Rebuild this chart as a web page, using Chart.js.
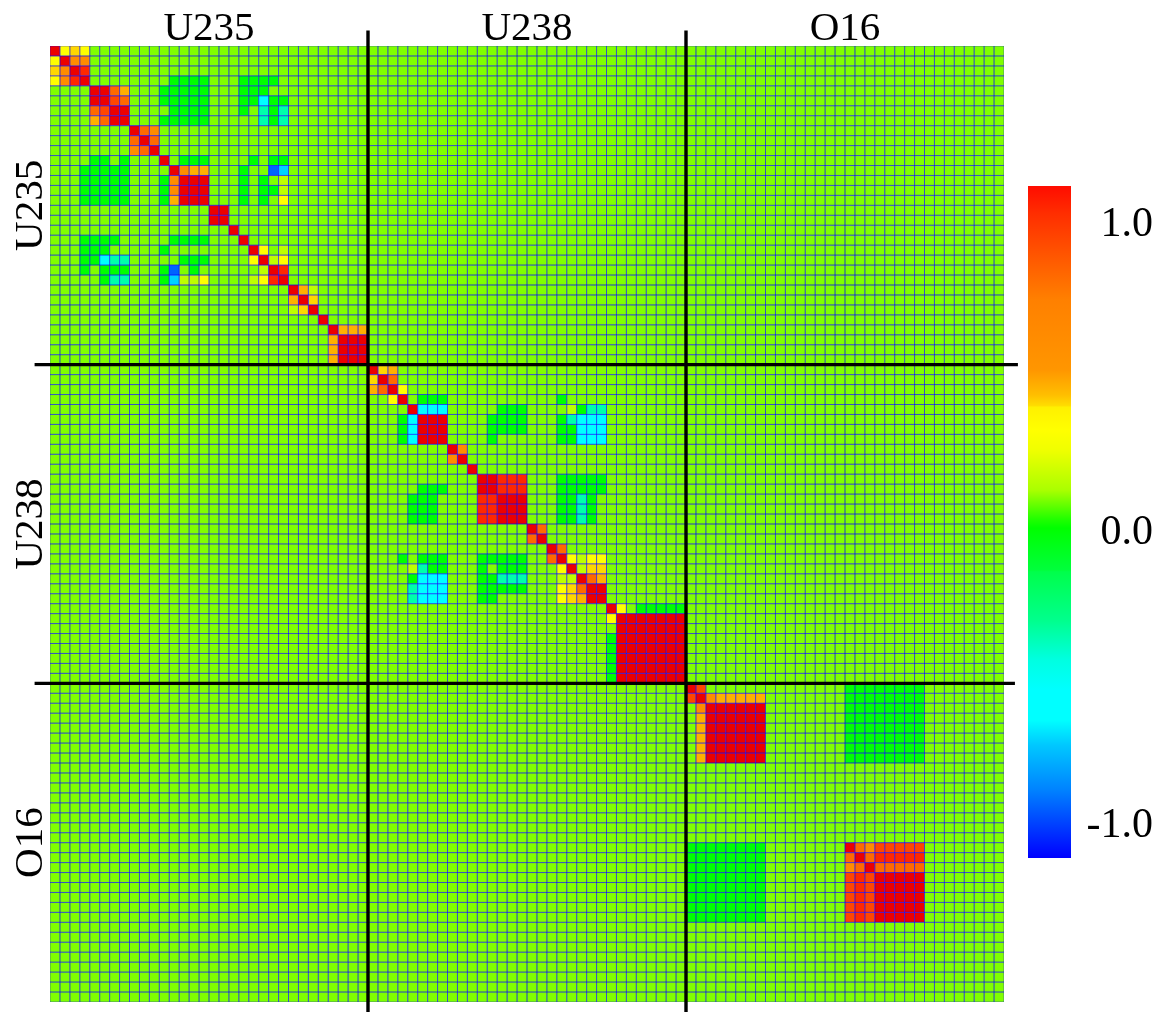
<!DOCTYPE html>
<html>
<head>
<meta charset="utf-8">
<style>
html,body{margin:0;padding:0;background:#fff;overflow:hidden}
#main{position:absolute;left:0;top:0}
#bar{position:absolute;left:1028px;top:186px}
</style>
<script src="https://cdn.jsdelivr.net/npm/chart.js@4"></script>
</head>
<body>
<canvas id="main" width="1163" height="1012"></canvas>
<canvas id="bar" width="125" height="672"></canvas>
<script>
const sectionNames = ["U235", "U238", "O16"];
const sectionSize = 32;
const sectionCentres = [16, 48, 80];
const sectionEdges = [32, 64];
const gridSize = 96;

// correlation read per cell; letters refer to levelValues
const levelValues = {
  b: -0.88, d: -0.72, c: -0.6, t: -0.39, g: 0, ".": 0.08, l: 0.145, y: 0.31,
  z: 0.39, a: 0.445, o: 0.6, n: 0.78, m: 0.9, q: 0.95, r: 1
};

// [row, first column, letters] relative to the section's own diagonal block
const u235Cells = [
  [0,0,"ryzy"],[1,0,"yroo"],[2,0,"zorq"],
  [3,0,"yoqr"],[3,12,"gggg"],[3,19,"gggg"],
  [4,4,"rrna"],[4,11,"ggggg"],[4,19,"ggg"],
  [5,4,"rrmn"],[5,11,"ggggg"],[5,19,"ggcgg"],
  [6,4,"nmrr"],[6,12,"gggg"],[6,19,"g.tgt"],
  [7,4,"anrr"],[7,11,"ggggg"],[7,21,"tgt"],
  [8,8,"rno"],[9,8,"nrn"],[10,8,"onr"],
  [11,4,"gg.g"],[11,11,"r"],[11,13,"ggg"],[11,20,"g.gg"],
  [12,3,"ggggg"],[12,12,"roaa"],[12,19,"g"],[12,22,"bd"],
  [13,3,"ggggg"],[13,11,"gorrr"],[13,19,"g.g.l"],
  [14,3,"ggggg"],[14,11,"gorrr"],[14,19,"g.ggl"],
  [15,3,"ggggg"],[15,11,"garrr"],[15,19,"g.g.y"],
  [16,16,"rr"],[17,16,"rr"],[18,18,"r"],
  [19,3,"gggg"],[19,12,"gggg"],[19,19,"r"],
  [20,3,"ggg"],[20,11,"g"],[20,20,"ry.l"],
  [21,3,"ggctt"],[21,13,"ggg"],[21,20,"yrly"],
  [22,3,"g.ggg"],[22,11,"gb.g"],[22,21,"lrq"],
  [23,5,"gtt"],[23,11,"gdlly"],[23,20,"lyqr"],
  [24,24,"ral"],[25,24,"arz"],[26,24,"lzr"],[27,27,"r"],
  [28,28,"raaa"],[29,28,"arrr"],[30,28,"arrr"],[31,28,"arrr"]
];
const u238Cells = [
  [0,0,"rza"],[1,0,"zrn"],[2,0,"anry"],
  [3,2,"yr"],[3,5,"ggg"],[3,19,"g"],
  [4,4,"rccc"],[4,13,"ggg"],[4,20,"lgtt"],
  [5,3,"gcrrr"],[5,12,"gggg"],[5,19,"gtccc"],
  [6,3,"gcrrr"],[6,12,"gggg"],[6,19,"ggccc"],
  [7,3,"gcrrr"],[7,12,"g"],[7,19,"ggccc"],
  [8,8,"ro"],[9,8,"or"],[10,10,"r"],
  [11,11,"rrqqq"],[11,19,"ggggg"],
  [12,5,"ggg"],[12,11,"rrqqq"],[12,19,"ggggg"],
  [13,4,"ggg"],[13,11,"qqrrr"],[13,19,"ggtg"],
  [14,4,"ggg"],[14,11,"qqrrr"],[14,19,"ggtg"],
  [15,4,"ggg"],[15,11,"qqrrr"],[15,19,"ggtg"],
  [16,16,"rn"],[17,16,"nr"],[18,18,"rn"],
  [19,3,"g.ggg"],[19,11,"ggggg"],[19,18,"nrylyy"],
  [20,4,"ltgg"],[20,11,"g.ggg"],[20,19,"yrlzz"],
  [21,4,"gccc"],[21,11,"ggttt"],[21,19,"llrna"],
  [22,4,"tccc"],[22,11,"ggggg"],[22,19,"yznrr"],
  [23,4,"tccc"],[23,11,"gg"],[23,19,"yzarr"],
  [24,24,"ry"],[24,27,"ggggg"],
  [25,24,"yrrrrrrr"],[26,25,"rrrrrrr"],
  [27,24,"grrrrrrr"],[28,24,"grrrrrrr"],[29,24,"grrrrrrr"],[30,24,"grrrrrrr"],[31,24,"grrrrrrr"]
];
const o16Cells = [
  [0,0,"rm"],[0,16,"gggggggg"],
  [1,0,"mroaaaaa"],[1,16,"gggggggg"],
  [2,1,"orrrrrr"],[2,16,"gggggggg"],
  [3,1,"arrrrrr"],[3,16,"gggggggg"],
  [4,1,"arrrrrr"],[4,16,"gggggggg"],
  [5,1,"arrrrrr"],[5,16,"gggggggg"],
  [6,1,"arrrrrr"],[6,16,"gggggggg"],
  [7,1,"arrrrrr"],[7,16,"gggggggg"],
  [16,0,"gggggggg"],[16,16,"rnommmmm"],
  [17,0,"gggggggg"],[17,16,"nrnqqqqq"],
  [18,0,"gggggggg"],[18,16,"onrnnnnn"],
  [19,0,"gggggggg"],[19,16,"mqmrrrrr"],
  [20,0,"gggggggg"],[20,16,"mqmrrrrr"],
  [21,0,"gggggggg"],[21,16,"mqmrrrrr"],
  [22,0,"gggggggg"],[22,16,"mqmrrrrr"],
  [23,0,"gggggggg"],[23,16,"mqmrrrrr"]
];

// value -> colour of the cells
const cellColourStops = [
  [-0.88,[0,100,255]],[-0.72,[0,210,255]],[-0.6,[0,255,255]],[-0.39,[0,255,170]],
  [0,[0,255,0]],[0.08,[128,255,0]],[0.145,[190,255,0]],[0.31,[255,255,0]],
  [0.39,[255,215,0]],[0.445,[255,176,0]],[0.6,[255,140,0]],[0.78,[255,105,0]],
  [0.9,[255,70,0]],[0.95,[255,40,0]],[1,[236,0,0]]
];

// colour bar
const colourbarMin = -1.113;
const colourbarMax = 1.123;
const colourbarStops = [
  [1.123,[255,12,0]],[1.033,[255,45,0]],[0.744,[255,128,0]],[0.511,[255,150,0]],
  [0.428,[255,190,0]],[0.391,[255,222,0]],[0.388,[255,240,0]],[0.311,[255,255,0]],
  [0.245,[240,255,0]],[0.111,[170,255,0]],[0.012,[30,255,0]],[-0.015,[0,255,0]],
  [-0.155,[0,255,60]],[-0.161,[0,255,75]],[-0.321,[0,255,140]],[-0.454,[0,255,225]],
  [-0.554,[0,255,255]],[-0.654,[0,255,255]],[-0.737,[0,200,255]],[-0.887,[0,130,255]],
  [-1.113,[0,0,255]]
];
const colourbarTickPositions = [0.993, -0.032, -1.007];
const colourbarTickLabels = ["1.0", "0.0", "-1.0"];

// separating lines, in cell units (they overrun the plot)
const lineOverrunStart = -1.55;
const lineOverrunEnd = [97.4, 97.1];
const lineOverrunBottom = 97.3;

const FONT = '"Liberation Serif", "Times New Roman", serif';

function buildCells() {
  const grid = [];
  for (let r = 0; r < gridSize; r++) grid.push(new Array(gridSize).fill(levelValues["."]));
  [u235Cells, u238Cells, o16Cells].forEach((list, s) => {
    const off = s * sectionSize;
    list.forEach(([r, c, letters]) => {
      [...letters].forEach((ch, i) => { grid[r + off][c + off + i] = levelValues[ch]; });
    });
  });
  const pts = [];
  grid.forEach((row, r) => row.forEach((v, c) => pts.push({x: c + 0.5, y: r + 0.5, v})));
  return pts;
}

function colourFor(v) {
  const s = cellColourStops;
  if (v <= s[0][0]) return `rgb(${s[0][1].join(",")})`;
  for (let i = 1; i < s.length; i++) {
    if (v <= s[i][0]) {
      const t = (v - s[i-1][0]) / (s[i][0] - s[i-1][0]);
      const c = s[i][1].map((b, k) => Math.round(s[i-1][1][k] + (b - s[i-1][1][k]) * t));
      return `rgb(${c.join(",")})`;
    }
  }
  return `rgb(${s[s.length-1][1].join(",")})`;
}

const labelFor = (value) => {
  const i = sectionCentres.indexOf(value);
  return i >= 0 ? sectionNames[i] : "";
};

const cellRadius = (ctx) => {
  const x = ctx.chart.scales.x;
  return (x.getPixelForValue(1) - x.getPixelForValue(0)) / Math.SQRT2;
};

const cellPoints = buildCells();

const lineDatasets = [];
sectionEdges.forEach((e, i) => {
  lineDatasets.push({
    type: "scatter", showLine: true, clip: false, pointRadius: 0, borderColor: "#000", borderWidth: 3.4,
    data: [{x: e, y: lineOverrunStart}, {x: e, y: lineOverrunBottom}], order: 0
  });
  lineDatasets.push({
    type: "scatter", showLine: true, clip: false, pointRadius: 0, borderColor: "#000", borderWidth: 3.4,
    data: [{x: lineOverrunStart, y: e}, {x: lineOverrunEnd[i], y: e}], order: 0
  });
});

new Chart(document.getElementById("main"), {
  type: "scatter",
  data: {
    datasets: [{
      data: cellPoints,
      order: 2,
      pointStyle: "rect",
      pointRadius: cellRadius,
      backgroundColor: (ctx) => colourFor(ctx.raw ? ctx.raw.v : 0),
      borderWidth: 0
    }, {
      data: cellPoints,
      order: 1,
      pointStyle: "rect",
      pointRadius: cellRadius,
      backgroundColor: "rgba(0,0,0,0)",
      borderColor: "rgba(0,0,255,0.42)",
      borderWidth: 1
    }, ...lineDatasets]
  },
  options: {
    responsive: false,
    animation: false,
    events: [],
    layout: {padding: {left: 0, top: 0, right: 159, bottom: 10}},
    plugins: {legend: {display: false}, tooltip: {enabled: false}, title: {display: false}},
    scales: {
      x: {
        type: "linear", position: "top", min: 0, max: gridSize,
        grid: {display: false, drawTicks: false}, border: {display: false},
        afterFit: (s) => { s.height = 46; },
        ticks: {
          stepSize: 1, autoSkip: false, maxRotation: 0, minRotation: 0, padding: -8,
          color: "#000", font: {family: FONT, size: 41}, callback: labelFor
        }
      },
      y: {
        type: "linear", position: "left", reverse: true, min: 0, max: gridSize,
        grid: {display: false, drawTicks: false}, border: {display: false},
        afterFit: (s) => { s.width = 50; },
        ticks: {
          stepSize: 1, autoSkip: false, minRotation: 90, maxRotation: 90, padding: -27, crossAlign: "center",
          color: "#000", font: {family: FONT, size: 41}, callback: labelFor
        }
      }
    }
  }
});

new Chart(document.getElementById("bar"), {
  type: "bar",
  data: {
    labels: ["colour scale"],
    datasets: [{
      data: [[colourbarMin, colourbarMax]],
      barPercentage: 1, categoryPercentage: 1, borderWidth: 0,
      backgroundColor: (ctx) => {
        const {ctx: c, chartArea: a} = ctx.chart;
        if (!a) return "#0f0";
        const g = c.createLinearGradient(0, a.bottom, 0, a.top);
        const span = colourbarMax - colourbarMin;
        colourbarStops.forEach(([v, col]) => {
          g.addColorStop(Math.min(1, Math.max(0, (v - colourbarMin) / span)), `rgb(${col.join(",")})`);
        });
        return g;
      }
    }]
  },
  options: {
    responsive: false,
    animation: false,
    events: [],
    layout: {padding: 0},
    plugins: {legend: {display: false}, tooltip: {enabled: false}},
    scales: {
      x: {display: false},
      y: {
        position: "right", min: colourbarMin, max: colourbarMax,
        grid: {display: false, drawTicks: false}, border: {display: false},
        afterFit: (s) => { s.width = 82; s.paddingTop = 0; s.paddingBottom = 0; },
        afterBuildTicks: (s) => { s.ticks = colourbarTickPositions.map((value) => ({value})); },
        ticks: {
          autoSkip: false, crossAlign: "far", color: "#000",
          font: {family: FONT, size: 42},
          callback: (value) => colourbarTickLabels[colourbarTickPositions.indexOf(value)]
        }
      }
    }
  }
});
</script>
</body>
</html>
